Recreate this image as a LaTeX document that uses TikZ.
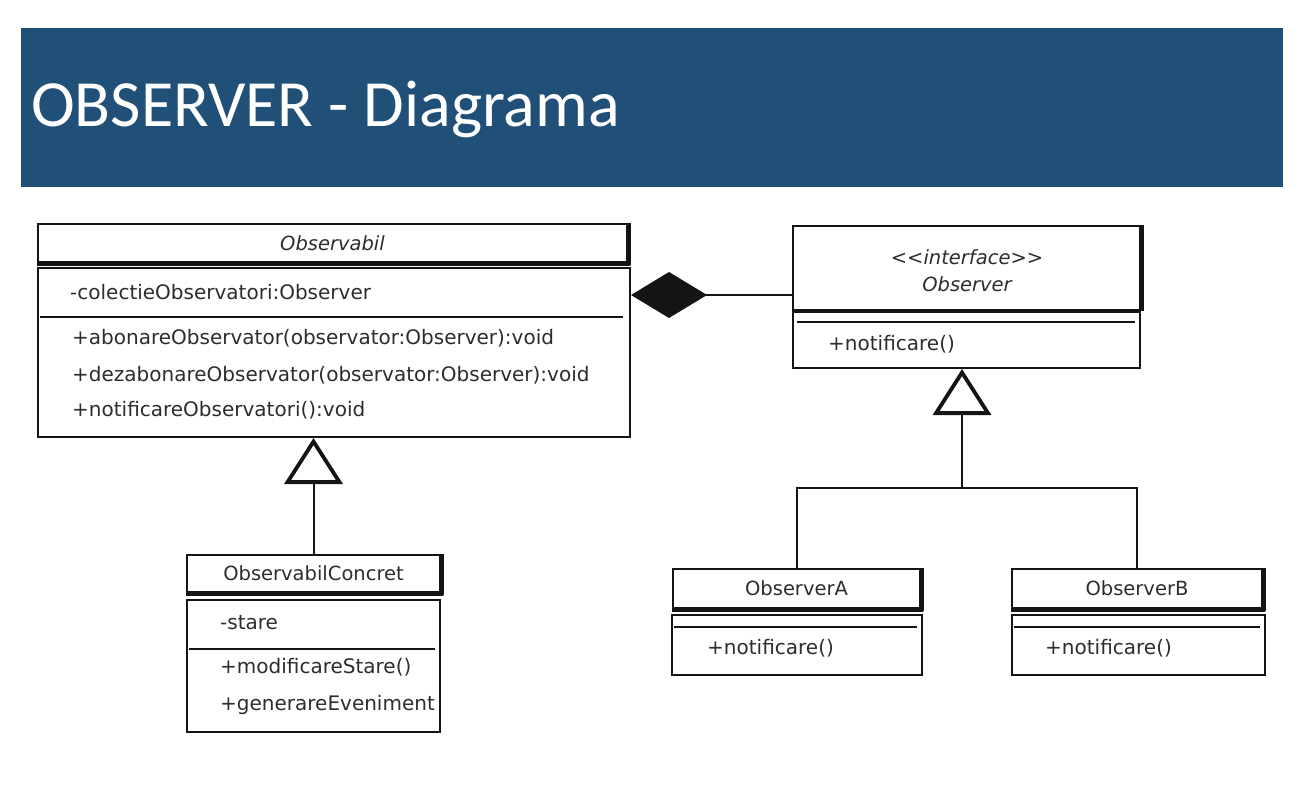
\documentclass[tikz,border=0pt]{standalone}
\usepackage{fontspec}
\setmainfont{DejaVu Sans}
\newfontfamily\titlefont{Carlito}
\usetikzlibrary{arrows.meta}
\definecolor{titleblue}{RGB}{32,79,120}
\definecolor{ink}{RGB}{20,20,20}
\definecolor{txt}{RGB}{45,45,45}
\begin{document}
\begin{tikzpicture}[x=1pt,y=-1pt,
  box/.style={draw=ink,line width=2pt,rectangle,inner sep=0pt},
  hdr/.style={box,font=\fontsize{19.5}{23}\selectfont,text=txt},
  heavy/.style={draw=ink,line width=4.5pt,line join=round},
  sep/.style={draw=ink,line width=2pt},
  mem/.style={anchor=west,inner sep=0pt,text=txt,font=\fontsize{20}{24}\selectfont,text height=1.8ex,text depth=0pt},
  lbl/.style={inner sep=0pt,text=txt,font=\itshape\fontsize{19.5}{23}\selectfont,text height=1.8ex,text depth=0pt},
  conn/.style={draw=ink,line width=2pt},
  inh/.style={conn,-{Triangle[open,length=46pt,width=58pt,line width=3.8pt]}},
  comp/.style={conn,{Diamond[length=76pt,width=46pt,fill=ink]}-}
]
\useasboundingbox (0,0) rectangle (1303,784);
\fill[white] (0,0) rectangle (1303,784);
% title band
\fill[titleblue] (21,28) rectangle (1283,187);
\node[anchor=base west,text=white,inner sep=0pt,font=\titlefont\fontsize{66}{70}\selectfont] (title) at (31,126) {OBSERVER - Diagrama};

% ---- Observabil ----
\node[hdr,minimum width=589pt,minimum height=38pt] (obsH) at (332.5,243) {\itshape Observabil};
\draw[heavy] ([xshift=1pt]obsH.north east) -- ([xshift=1pt,yshift=-1pt]obsH.south east) -- ([yshift=-1pt]obsH.south west);
\node[box,minimum width=592pt,minimum height=169pt] (obsB) at (334,352.5) {};
\draw[sep] ([xshift=3pt,yshift=-50pt]obsB.north west) -- ([xshift=-8pt,yshift=-50pt]obsB.north east);
\node[mem] (a1) at (70,295) {-colectieObservatori:Observer};
\node[mem] (m1) at (72,340) {+abonareObservator(observator:Observer):void};
\node[mem] (m2) at (72,377) {+dezabonareObservator(observator:Observer):void};
\node[mem] (m3) at (72,412) {+notificareObservatori():void};

% ---- ObservabilConcret ----
\node[hdr,minimum width=253pt,minimum height=37pt] (ocH) at (313.5,573.5) {ObservabilConcret};
\draw[heavy] ([xshift=1pt]ocH.north east) -- ([xshift=1pt,yshift=-1pt]ocH.south east) -- ([yshift=-1pt]ocH.south west);
\node[box,minimum width=253pt,minimum height=132pt] (ocB) at (313.5,666) {};
\draw[sep] ([xshift=3pt,yshift=-50pt]ocB.north west) -- ([xshift=-6pt,yshift=-50pt]ocB.north east);
\node[mem] (a2) at (220,625) {-stare};
\node[mem] (m4) at (220,669) {+modificareStare()};
\node[mem] (m5) at (220,706) {+generareEveniment};

% ---- Observer interface ----
\node[box,minimum width=347pt,minimum height=84pt] (ifH) at (966.5,268) {};
\node[lbl] (ster) at (967,260) {<{}<interface>{}>};
\node[lbl] (ifname) at (967,287) {Observer};
\draw[heavy] ([xshift=1pt]ifH.north east) -- ([xshift=1pt]ifH.south east);
\node[box,minimum width=347pt,minimum height=56pt] (ifB) at (966.5,340) {};
\draw[sep] ([xshift=5pt,yshift=-11pt]ifB.north west) -- ([xshift=-6pt,yshift=-11pt]ifB.north east);
\node[mem] (m6) at (828,346) {+notificare()};

% ---- ObserverA ----
\node[hdr,minimum width=247pt,minimum height=39pt] (oaH) at (796.5,588.5) {ObserverA};
\draw[heavy] ([xshift=1pt]oaH.north east) -- ([xshift=1pt,yshift=-1pt]oaH.south east) -- ([yshift=-1pt]oaH.south west);
\node[box,minimum width=250pt,minimum height=60pt] (oaB) at (797,645) {};
\draw[sep] ([xshift=3pt,yshift=-13pt]oaB.north west) -- ([xshift=-6pt,yshift=-13pt]oaB.north east);
\node[mem] (m7) at (707,650) {+notificare()};

% ---- ObserverB ----
\node[hdr,minimum width=250pt,minimum height=39pt] (obH) at (1137,588.5) {ObserverB};
\draw[heavy] ([xshift=1pt]obH.north east) -- ([xshift=1pt,yshift=-1pt]obH.south east) -- ([yshift=-1pt]obH.south west);
\node[box,minimum width=253pt,minimum height=60pt] (obB) at (1138.5,645) {};
\draw[sep] ([xshift=3pt,yshift=-13pt]obB.north west) -- ([xshift=-6pt,yshift=-13pt]obB.north east);
\node[mem] (m8) at (1045,650) {+notificare()};

% ---- connectors ----
\draw[comp] ([yshift=-28pt]obsB.north east) -- ([yshift=-70pt]ifH.north west);
\draw[inh] (ocH.north) -- (ocH.north |- obsB.south);
\coordinate (junc) at (962,488);
\draw[conn] (oaH.north) -- (oaH.north |- junc) -- (obH.north |- junc) -- (obH.north);
\draw[inh] (junc) -- (junc |- ifB.south);
\end{tikzpicture}
\end{document}
